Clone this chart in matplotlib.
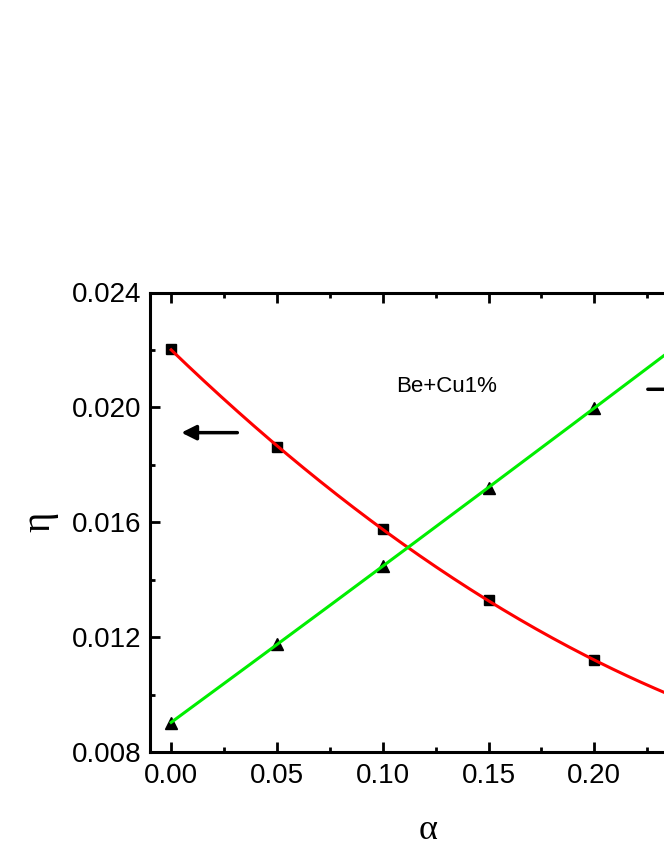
import numpy as np
import matplotlib
matplotlib.use('Agg')
import matplotlib.pyplot as plt
from matplotlib.ticker import MultipleLocator, FormatStrFormatter, FuncFormatter

# values (Be+Cu1%)
alpha = [0.00, 0.05, 0.10, 0.15, 0.20]
eta_square = [0.02202, 0.01863, 0.01576, 0.01329, 0.01119]
eta_triangle = [0.00902, 0.01176, 0.01448, 0.01718, 0.01999]
note = 'Be+Cu1%'

plt.rcParams['font.family'] = ['Liberation Sans', 'DejaVu Sans']

fig = plt.figure(figsize=(6.64, 8.6), dpi=100)
# axes run past the right edge, the reference is cut there
ax = fig.add_axes([150 / 664, 108 / 860, 677 / 664, 459.5 / 860])

# smooth fit lines through the points
xs = np.linspace(0, 0.26, 200)
red_fit = np.polyval(np.polyfit(alpha, eta_square, 2), xs)
green_fit = np.polyval(np.polyfit(alpha, eta_triangle, 2), xs)

ax.plot(alpha, eta_square, 's', color='black', markersize=7.5, zorder=2)
ax.plot(alpha, eta_triangle, '^', color='black', markersize=8, zorder=2)
ax.plot(xs, red_fit, color='#ff0000', lw=2.2, zorder=3)
ax.plot(xs, green_fit, color='#00ee00', lw=2.2, zorder=3)

ax.set_xlim(-0.01, 0.31)
ax.set_ylim(0.008, 0.024)
ax.xaxis.set_major_locator(MultipleLocator(0.05))
ax.xaxis.set_minor_locator(MultipleLocator(0.025))
ax.yaxis.set_major_locator(MultipleLocator(0.004))
ax.yaxis.set_minor_locator(MultipleLocator(0.002))
# labels past the cut edge are not visible in the reference
ax.xaxis.set_major_formatter(FuncFormatter(lambda v, p: '%.2f' % v if v < 0.22 else ''))
ax.yaxis.set_major_formatter(FormatStrFormatter('%.3f'))
ax.tick_params(which='both', direction='in', top=True, right=True, width=2)
ax.tick_params(which='major', length=7, labelsize=20)
ax.tick_params(axis='x', which='major', pad=8)
ax.tick_params(axis='y', which='major', pad=6)
ax.tick_params(which='minor', length=3.6)
for s in ax.spines.values():
    s.set_linewidth(2.2)

ax.set_xlabel('α', family='Liberation Serif', fontsize=26)
ax.set_ylabel('η', family='Liberation Serif', fontsize=28)
ax.xaxis.set_label_coords((428 - 150) / 677, (752 - 814) / 459.5)
ax.yaxis.set_label_coords((58 - 150) / 677, 0.5)

ax.text(0.13, 0.02053, note, fontsize=16, ha='center', va='baseline')

ax.annotate('', xy=(0.0035, 0.01912), xytext=(0.0326, 0.01912),
            arrowprops=dict(arrowstyle='-|>', color='black', lw=2.5, mutation_scale=22))
ax.annotate('', xy=(0.26, 0.02063), xytext=(0.224, 0.02063),
            arrowprops=dict(arrowstyle='-|>', color='black', lw=2.5, mutation_scale=22),
            annotation_clip=False)

fig.savefig('out.png', dpi=100)
